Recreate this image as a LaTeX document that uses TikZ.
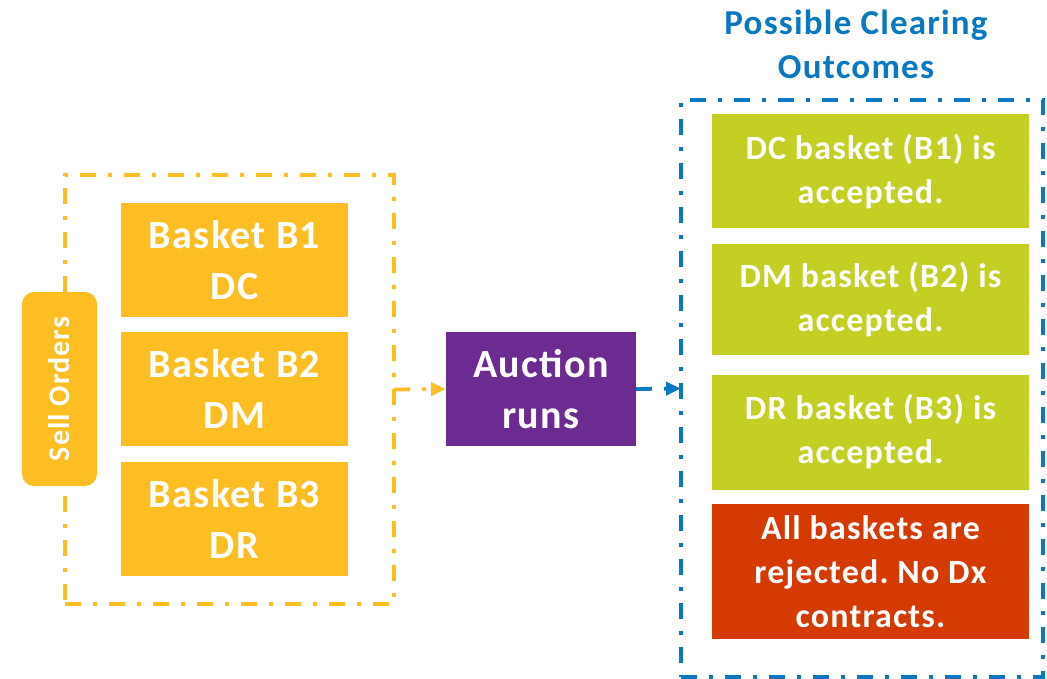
\documentclass[tikz,border=0pt]{standalone}
\usepackage{fontspec}
\setmainfont{Carlito}[LetterSpace=3.5]
\usetikzlibrary{arrows.meta}
\definecolor{cyel}{HTML}{FDBE24}
\definecolor{cpur}{HTML}{6B2B90}
\definecolor{cgrn}{HTML}{C3CF22}
\definecolor{cred}{HTML}{D53A00}
\definecolor{cblu}{HTML}{0A78C0}
\frenchspacing
\begin{document}
\begin{tikzpicture}[x=1pt,y=-1pt,
  box/.style={inner sep=0pt, outer sep=0pt, align=center, text=white, font=\bfseries},
  basket/.style={box, fill=cyel, minimum width=227pt, minimum height=114pt, font=\bfseries\fontsize{40}{51}\selectfont},
  outcome/.style={box, fill=cgrn, minimum width=317pt, font=\bfseries\fontsize{34}{44}\selectfont},
  frame/.style={inner sep=0pt, outer sep=0pt, draw, line width=3.8pt},
  ydash/.style={dash pattern=on 16pt off 12pt on 4pt off 12pt},
  bdash/.style={dash pattern=on 16pt off 12pt on 4pt off 12pt},
  tip/.style={-{Triangle[length=15pt,width=13pt]}}
]
\useasboundingbox (0,0) rectangle (1047,679);
% left group
\node[frame, ydash, draw=cyel, minimum width=329pt, minimum height=429pt] (sellbox) at (229.5,389.5) {};
\node[basket] (b1) at (234.5,260) {Basket B1\\DC};
\node[basket] (b2) at (234.5,389) {Basket B2\\DM};
\node[basket] (b3) at (234.5,519) {Basket B3\\DR};
\node[box, fill=cyel, rounded corners=12pt, rotate=90, minimum width=194pt, minimum height=75pt, font=\bfseries\fontsize{30}{36}\selectfont] (sell) at (59.5,389) {Sell Orders};
% auction
\node[box, fill=cpur, minimum width=190pt, minimum height=114pt, font=\bfseries\fontsize{40}{51}\selectfont] (auction) at (541,389) {Auction\\runs};
% right group
\node[text=cblu, align=center, inner sep=0pt, font=\bfseries\fontsize{35}{44}\selectfont] (title) at (856,44) {Possible Clearing\\Outcomes};
\node[frame, bdash, draw=cblu, minimum width=362pt, minimum height=577pt] (outbox) at (862,388.5) {};
\node[outcome, minimum height=114pt] (o1) at (870.5,171.5) {DC basket (B1) is\\accepted.};
\node[outcome, minimum height=110pt] (o2) at (870.5,299.5) {DM basket (B2) is\\accepted.};
\node[outcome, minimum height=115pt] (o3) at (870.5,432) {DR basket (B3) is\\accepted.};
\node[outcome, fill=cred, minimum height=135pt] (o4) at (870.5,571.5) {All baskets are\\rejected. No Dx\\contracts.};
% connectors
\draw[cyel, line width=3.8pt, ydash, tip] (sellbox.east) -- (auction.west);
\draw[cblu, line width=3.8pt, bdash, tip] (auction.east) -- (outbox.west);
\end{tikzpicture}
\end{document}
